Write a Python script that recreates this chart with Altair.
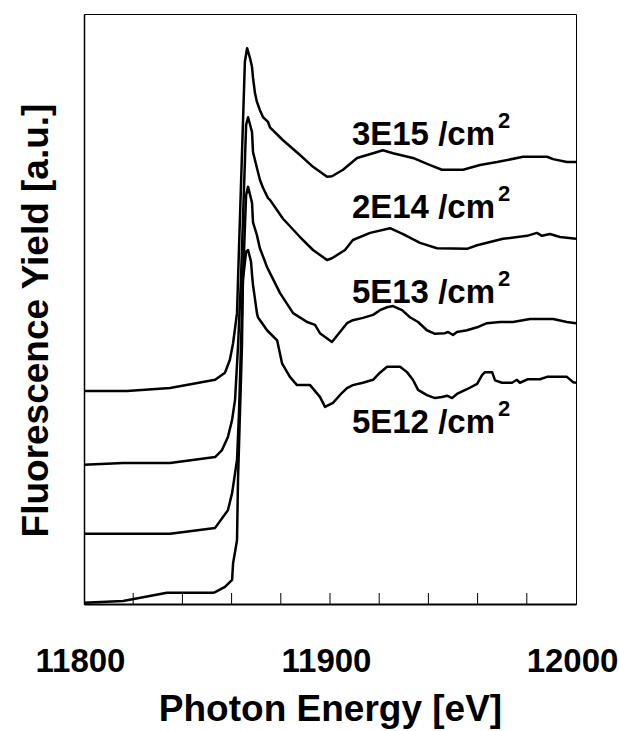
import altair as alt
import pandas as pd

# ---- data (energy in eV, fluorescence yield in arbitrary units) ----
series_names = ["3E15", "2E14", "5E13", "5E12"]

E_3E15 = [11800.0, 11817.5, 11835.0, 11853.3, 11857.3, 11859.3, 11860.6, 11862.2, 11862.6, 11865.4,
          11866.3, 11867.5, 11868.3, 11868.7, 11869.5, 11870.3, 11871.5, 11872.8, 11874.8, 11875.6,
          11880.9, 11887.8, 11893.1, 11898.8, 11900.8, 11905.3, 11911.0, 11917.5, 11921.5, 11925.6,
          11933.7, 11940.7, 11945.5, 11954.1, 11961.0, 11967.9, 11978.5, 11988.2, 11990.7, 11996.3, 12000.0]
I_3E15 = [36.1, 36.1, 36.6, 38.0, 39.2, 41.4, 44.2, 49.3, 54.9, 91.9,
          94.2, 92.5, 91.0, 89.2, 86.6, 85.1, 83.7, 82.5, 81.7, 80.8,
          78.6, 76.1, 74.1, 72.4, 72.5, 73.6, 75.6, 76.4, 76.9, 76.4,
          75.6, 74.4, 73.6, 73.6, 74.4, 74.9, 75.8, 75.8, 75.4, 74.9, 74.9]

E_2E14 = [11800.0, 11815.9, 11835.0, 11853.3, 11856.1, 11858.5, 11860.2, 11861.4, 11862.6, 11863.8,
          11865.9, 11866.7, 11868.3, 11868.7, 11870.3, 11871.5, 11872.8, 11874.8, 11875.6, 11880.9,
          11887.8, 11893.1, 11898.8, 11900.8, 11906.1, 11909.3, 11916.3, 11924.4, 11929.7, 11936.6,
          11943.5, 11955.7, 11959.8, 11970.3, 11980.1, 11984.1, 11986.2, 11989.4, 11993.5, 12000.0]
I_2E14 = [23.6, 23.9, 23.9, 24.9, 26.1, 28.3, 31.2, 34.6, 43.6, 54.9,
          81.2, 82.5, 80.0, 76.6, 73.9, 71.9, 70.5, 68.8, 68.5, 65.3,
          62.2, 60.0, 58.3, 58.6, 60.0, 61.7, 62.9, 63.7, 62.7, 61.2,
          60.3, 60.2, 60.8, 61.9, 62.4, 62.9, 62.4, 62.7, 62.2, 61.9]

E_5E13 = [11800.0, 11815.9, 11835.0, 11853.3, 11858.5, 11860.2, 11862.2, 11863.0, 11863.8, 11864.6,
          11865.9, 11866.7, 11868.3, 11868.7, 11870.3, 11871.5, 11873.6, 11874.4, 11879.7, 11885.0,
          11890.7, 11893.9, 11895.9, 11900.8, 11906.9, 11909.3, 11913.4, 11917.5, 11920.3, 11923.2,
          11925.6, 11929.3, 11932.5, 11935.8, 11939.4, 11942.7, 11946.7, 11948.0, 11950.0, 11951.6,
          11955.7, 11959.8, 11963.8, 11969.1, 11974.4, 11981.3, 11990.7, 11996.3, 12000.0]
I_5E13 = [11.9, 11.9, 11.9, 12.9, 15.9, 18.8, 24.4, 32.4, 43.6, 54.9,
          69.3, 70.7, 68.0, 64.7, 62.5, 60.3, 58.0, 57.1, 52.7, 49.3,
          47.8, 47.3, 45.9, 44.4, 47.6, 48.1, 48.5, 49.0, 49.8, 50.3,
          50.5, 49.8, 48.6, 47.8, 46.4, 45.8, 45.9, 46.1, 45.6, 46.1,
          46.4, 46.9, 47.6, 47.8, 47.8, 48.3, 48.3, 47.8, 47.6]

E_5E12 = [11800.0, 11815.9, 11833.7, 11852.4, 11853.3, 11857.3, 11860.2, 11860.6, 11862.2, 11862.6,
          11863.4, 11864.2, 11864.6, 11865.9, 11866.7, 11867.9, 11868.3, 11868.7, 11870.3, 11870.7,
          11874.4, 11878.5, 11880.5, 11883.7, 11886.6, 11891.9, 11895.9, 11898.0, 11901.2, 11904.9,
          11906.9, 11909.3, 11913.4, 11917.5, 11920.3, 11923.2, 11928.5, 11931.3, 11933.7, 11935.8,
          11939.4, 11942.7, 11945.5, 11947.6, 11949.6, 11951.6, 11955.7, 11959.8, 11961.8, 11963.0,
          11965.9, 11967.1, 11969.9, 11974.0, 11976.0, 11977.2, 11980.5, 11985.4, 11988.2, 11996.3,
          11998.8, 12000.0]
I_5E12 = [0.2, 0.5, 1.9, 1.9, 2.0, 2.9, 4.1, 6.9, 10.8, 21.0,
          32.4, 43.6, 54.9, 59.7, 60.0, 58.0, 55.8, 54.1, 49.3, 48.6,
          46.4, 44.7, 40.8, 38.5, 37.1, 37.1, 35.1, 33.4, 34.1, 35.8,
          36.6, 37.1, 37.5, 38.0, 39.2, 40.2, 40.2, 39.3, 38.0, 36.3,
          35.4, 34.9, 35.1, 35.3, 34.9, 35.6, 36.4, 37.3, 38.8, 39.3,
          39.3, 37.9, 37.5, 37.5, 38.0, 37.5, 38.1, 38.1, 38.5, 38.5,
          37.6, 37.5]

label_text = ["3E15 /cm", "2E14 /cm", "5E13 /cm", "5E12 /cm"]
label_sup = ["2", "2", "2", "2"]
label_energy = [11908.9, 11908.9, 11908.9, 11908.9]
label_level = [77.8, 65.4, 51.0, 29.0]

x_label_values = [11800, 11900, 12000]
x_minor_ticks = [11820, 11840, 11860, 11880, 11900, 11920, 11940, 11960, 11980]

# ---- tables ----
rows = []
for name, es, ys in zip(series_names,
                        [E_3E15, E_2E14, E_5E13, E_5E12],
                        [I_3E15, I_2E14, I_5E13, I_5E12]):
    for k, (e, y) in enumerate(zip(es, ys)):
        rows.append({"series": name, "energy": e, "yield": y, "idx": k})
df = pd.DataFrame(rows)
lab_df = pd.DataFrame({"energy": label_energy, "yield": label_level,
                       "text": label_text, "sup": label_sup})
tick_df = pd.DataFrame({"energy": x_minor_ticks})

W, H = 492, 590
FONT = "Liberation Sans"

x_scale = alt.Scale(domain=[11800, 12000], nice=False, zero=False)
y_scale = alt.Scale(domain=[0, 100], nice=False, zero=False)

x_axis = alt.Axis(values=x_label_values, ticks=False, grid=False, format="d",
                  labelFont=FONT, labelFontSize=33, labelFontWeight="bold", labelColor="black",
                  labelPadding=41, labelFlush=False, labelOffset=-4, labelBound=False,
                  domainColor="black", domainWidth=2,
                  title="Photon Energy [eV]", titleFont=FONT, titleFontSize=37,
                  titleFontWeight="bold", titleColor="black",
                  titleBaseline="alphabetic", titleY=116)
y_axis = alt.Axis(ticks=False, labels=False, grid=False,
                  domainColor="black", domainWidth=1.5,
                  title="Fluorescence Yield [a.u.]", titleFont=FONT, titleFontSize=37,
                  titleFontWeight="bold", titleColor="black",
                  titleBaseline="alphabetic", titleX=-37, titleY=306)

X = alt.X("energy:Q", scale=x_scale, axis=x_axis)
Y = alt.Y("yield:Q", scale=y_scale, axis=y_axis)

lines = alt.Chart(df).mark_line(color="black", strokeWidth=2.5, strokeJoin="round").encode(
    x=X, y=Y, detail="series:N", order="idx:Q")

ticks = alt.Chart(tick_df).mark_rule(color="black", strokeWidth=1).encode(
    x=X, y=alt.value(H), y2=alt.value(H - 11))

labels = alt.Chart(lab_df).mark_text(
    align="left", baseline="alphabetic", font=FONT, fontSize=33,
    fontWeight="bold", color="black").encode(x=X, y=Y, text="text:N")

sups = alt.Chart(lab_df).mark_text(
    align="left", baseline="alphabetic", font=FONT, fontSize=22,
    fontWeight="bold", color="black", dx=146, dy=-17).encode(x=X, y=Y, text="sup:N")

chart = alt.layer(lines, ticks, labels, sups).properties(
    width=W, height=H,
    padding={"left": 84, "top": 14, "right": 43, "bottom": 127},
    autosize=alt.AutoSizeParams(type="none"),
    background="white",
).configure_view(stroke="black", strokeWidth=1)

chart.save("out.html", embed_options={"renderer": "svg", "actions": False})
